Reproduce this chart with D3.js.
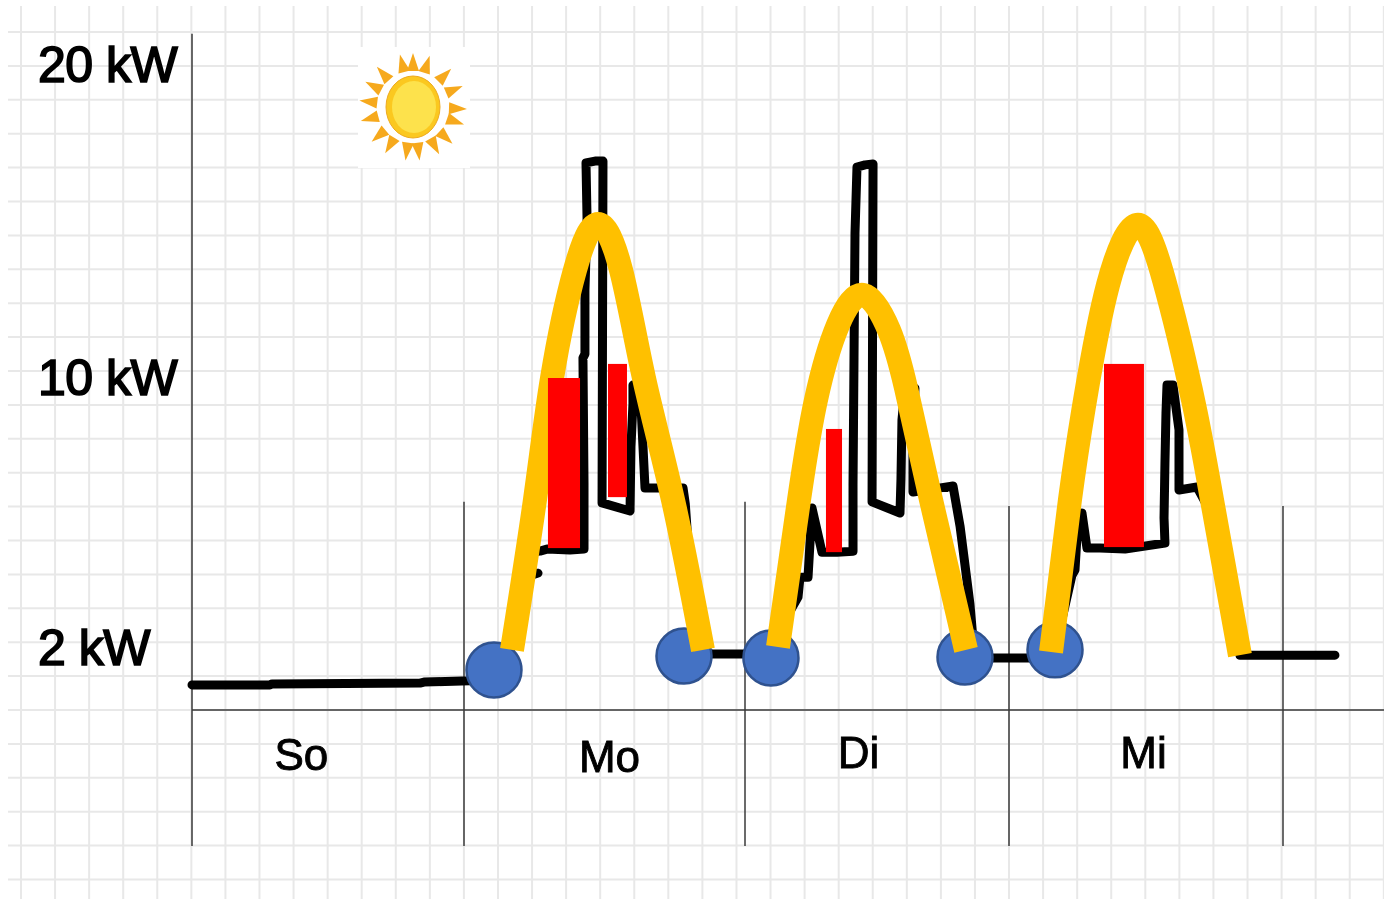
<html>
<head>
<meta charset="utf-8">
<title>Last und PV-Ertrag</title>
<script src="https://d3js.org/d3.v7.min.js"></script>
<style>
body{margin:0;background:#fff;}
svg{display:block;}
.soft{filter:blur(0.5px);}
text{font-family:"Liberation Sans",Arial,sans-serif;fill:#000;stroke:#000;}
</style>
</head>
<body>
<svg width="1384" height="899"></svg>
<script>
// labels and ticks
var kwTicks = [2, 10, 20];
var dayNames = ["So", "Mo", "Di", "Mi"];
var dayLabelHours = [9.6, 36.38, 58.27, 83.74];
var dayEdges = [0, 24, 48, 72, 96];
var dayEdgeTopKw = [21, 6.33, 6.33, 6.21, 6.21];

// load (black), hour and kW
var loadHours = [0, 6.88, 7.06, 20.12, 20.47, 24.51, 27.07, 28.36, 29.21, 29.81, 30.32, 29.81, 29.64, 30.49, 31.09, 33.05, 34.25, 34.25, 34.16, 34.33, 34.33, 34.51, 34.42, 35.19, 35.87, 35.79, 38.18, 38.26, 38.43, 38.43, 39.03, 39.46, 42.71, 42.9, 43.47, 44.16, 45.18, 48,
  50.36, 51.64, 52.82, 53, 53.73, 54.09, 55, 56.36, 57.82, 57.82, 57.91, 58, 58.18, 58.91, 59.64, 59.55, 62.09, 62.18, 62.27, 62.55, 63.45, 63.27, 63.27, 66.91, 67.55, 68.45, 68.73, 69.82, 72,
  74.28, 76.03, 77.52, 77.78, 78.04, 78.39, 78.83, 79.97, 82.16, 85.66, 85.58, 85.66, 85.75, 85.84, 86.36, 86.89, 86.89, 88.47, 90.04, 90.92, 92.23, 100.55];
var loadKw = [0.81, 0.81, 0.84, 0.87, 0.9, 0.94, 1.23, 2.24, 3.72, 4.16, 4.22, 4.25, 4.84, 4.87, 4.93, 4.9, 4.93, 6.89, 10.64, 10.77, 12.81, 15.08, 16.87, 16.93, 16.93, 6.3, 6.06, 7.96, 9.23, 9.79, 9.79, 6.74, 6.74, 6.27, 3.42, 1.94, 1.81, 1.81,
  1.68, 2.83, 3.51, 4.1, 4.1, 6.15, 4.84, 4.84, 4.87, 6.83, 10.64, 14.63, 16.74, 16.81, 16.84, 6.33, 6, 7.01, 8.76, 9.7, 9.7, 8.04, 6.62, 6.8, 5.61, 3.3, 2.24, 1.68, 1.68,
  1.68, 1.94, 4.16, 4.31, 5.79, 6, 4.96, 4.96, 4.93, 5.11, 5.85, 7.48, 8.96, 9.79, 9.79, 8.46, 6.68, 6.77, 5.79, 4.31, 1.77, 1.77];

// solar curves (gold), one per day
var solarMoHours = [28.1, 30.06, 31.52, 33.48, 35.45, 37.41, 39.37, 41.85, 44.41];
var solarMoKw = [1.94, 6.39, 10, 13.45, 14.92, 13.45, 10, 6.39, 1.94];
var solarDiHours = [51, 52.91, 54.45, 56.45, 58.82, 61.09, 62.64, 64.91, 68.09];
var solarDiKw = [2.03, 6.39, 9.35, 11.69, 12.65, 11.53, 9.7, 6.39, 1.94];
var solarMiHours = [75.68, 77.34, 78.66, 80.67, 83.21, 85.58, 88.12, 89.78, 92.23];
var solarMiKw = [1.87, 6.39, 9.35, 12.97, 14.89, 13.13, 9.35, 6.39, 1.77];

// red bars
var barStart = [31.17, 36.3, 55.36, 80.32];
var barEnd = [33.91, 37.92, 56.82, 83.82];
var barLow = [4.96, 6.47, 4.84, 4.99];
var barHigh = [10, 10.45, 8.49, 10.45];

// blue dots
var dotHours = [26.56, 42.79, 50.36, 68, 76.03];
var dotKw = [1.29, 1.74, 1.68, 1.71, 1.94];

// sun rays, degrees clockwise from top
var rayAngles = [0, 18, 45, 67, 92, 109, 133, 151, 173, 188, 211, 230, 255, 277, 298, 318, 346];

var svg = d3.select("svg"),
    width = +svg.attr("width"),
    height = +svg.attr("height");

// the days and the kW axis are not evenly spaced in the picture
var x = d3.scaleLinear()
    .domain([0, 24, 48, 72, 96, 108])
    .range([192, 464, 745, 1009, 1283, 1420]);
var y = d3.scaleLinear()
    .domain([-4.39, 0, 2, 10, 20, 21])
    .range([846, 710, 648, 378, 65, 33.7]);

// paper grid
var grid = svg.append("g").attr("class", "soft")
    .attr("stroke", "#e8e8e8").attr("stroke-width", 2);
grid.selectAll(".gv").data(d3.range(21, width, 34.07)).enter().append("line")
    .attr("class", "gv")
    .attr("x1", d => d).attr("x2", d => d)
    .attr("y1", 6).attr("y2", height);
grid.selectAll(".gh").data(d3.range(32, height, 33.9)).enter().append("line")
    .attr("class", "gh")
    .attr("x1", 8).attr("x2", width)
    .attr("y1", d => d).attr("y2", d => d);

// frame
var frame = svg.append("g").attr("stroke", "#3a3a3a").attr("stroke-width", 1.5);
frame.selectAll(".day").data(dayEdges).enter().append("line")
    .attr("class", "day")
    .attr("x1", d => x(d)).attr("x2", d => x(d))
    .attr("y1", (d, i) => y(dayEdgeTopKw[i]))
    .attr("y2", y(-4.39));
frame.append("line")
    .attr("x1", x(0)).attr("x2", width)
    .attr("y1", y(0)).attr("y2", y(0));

// axes
var yAxis = svg.append("g").attr("class", "soft")
    .attr("transform", "translate(" + x(0) + ",0)")
    .call(d3.axisLeft(y).tickValues(kwTicks).tickFormat(d => d + " kW").tickSize(0));
yAxis.select(".domain").remove();
yAxis.selectAll("text")
    .attr("x", -154).attr("dy", "0.33em")
    .style("text-anchor", "start")
    .style("font-size", "50px")
    .style("font-family", "'Liberation Sans',Arial,sans-serif")
    .style("letter-spacing", "-0.5px")
    .style("stroke-width", 1.7);

var labelNudge = [0, 2, -2, -2];
var xAxis = svg.append("g").attr("class", "soft")
    .attr("transform", "translate(0," + y(0) + ")")
    .call(d3.axisBottom(x).tickValues(dayLabelHours).tickFormat((d, i) => dayNames[i]).tickSize(0));
xAxis.select(".domain").remove();
xAxis.selectAll("text")
    .attr("y", (d, i) => 60 + labelNudge[i]).attr("dy", 0)
    .style("font-size", "44px")
    .style("font-family", "'Liberation Sans',Arial,sans-serif")
    .style("stroke-width", 0.9);

// sun
var sun = svg.append("g").attr("transform", "translate(413,107)");
sun.append("rect").attr("x", -55).attr("y", -60).attr("width", 112).attr("height", 121).attr("fill", "#fff");
sun.selectAll(".ray").data(rayAngles).enter().append("path")
    .attr("class", "ray")
    .attr("fill", "#f6a91d")
    .attr("transform", d => "rotate(" + d + ")")
    .attr("d", "M0,-54L6,-36L-6,-36Z");
sun.append("ellipse").attr("rx", 27).attr("ry", 31).attr("fill", "#fbc81f").attr("stroke", "#eeaa1f").attr("stroke-width", 1);
sun.append("ellipse").attr("cx", 1).attr("cy", 0).attr("rx", 22).attr("ry", 26).attr("fill", "#fde24c");

// load line
var loadLine = d3.line()
    .x((d, i) => x(loadHours[i]))
    .y((d, i) => y(loadKw[i]));
svg.append("path")
    .attr("class", "soft")
    .attr("fill", "none").attr("stroke", "#000").attr("stroke-width", 9)
    .attr("stroke-linejoin", "round").attr("stroke-linecap", "round")
    .attr("d", loadLine(loadHours));

// blue dots
svg.selectAll(".dot").data(dotHours).enter().append("circle")
    .attr("class", "dot")
    .attr("cx", d => x(d))
    .attr("cy", (d, i) => y(dotKw[i]))
    .attr("r", 27.5)
    .attr("fill", "#4472c4").attr("stroke", "#2f528f").attr("stroke-width", 2.5);

// solar curves
var solarLine = d3.line().x(d => x(d[0])).y(d => y(d[1])).curve(d3.curveNatural);
[[solarMoHours, solarMoKw], [solarDiHours, solarDiKw], [solarMiHours, solarMiKw]].forEach(function (s) {
    svg.append("path")
        .attr("fill", "none").attr("stroke", "#ffc000").attr("stroke-width", 24)
        .attr("d", solarLine(d3.zip(s[0], s[1])));
});

// red bars
svg.selectAll(".bar").data(barStart).enter().append("rect")
    .attr("class", "bar")
    .attr("fill", "#ff0000")
    .attr("x", d => x(d))
    .attr("width", (d, i) => x(barEnd[i]) - x(d))
    .attr("y", (d, i) => y(barHigh[i]))
    .attr("height", (d, i) => y(barLow[i]) - y(barHigh[i]));
</script>
</body>
</html>
